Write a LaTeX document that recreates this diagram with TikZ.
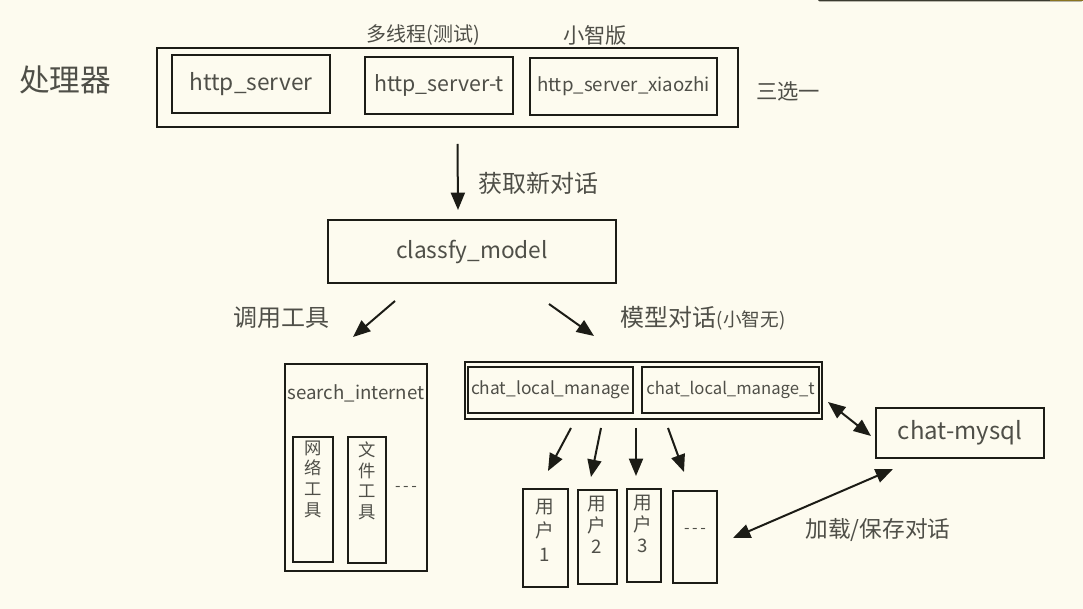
\documentclass[tikz,border=0pt]{standalone}
\usepackage{fontspec}
\setmainfont{Noto Sans CJK SC}
\usetikzlibrary{arrows.meta,calc}
\definecolor{bg}{HTML}{FDFBEF}
\definecolor{linec}{HTML}{1C1C16}
\definecolor{txt}{HTML}{4F4F48}
\definecolor{barc}{HTML}{3A3A30}
\definecolor{goldc}{HTML}{8A7420}
\tikzset{
  box/.style={draw=linec, line width=1.5pt, fill=none, inner sep=0pt},
  sz/.style 2 args={minimum width=#1*0.75pt, minimum height=#2*0.75pt},
  lbl/.style={text=txt, inner sep=0pt, align=center},
  fs/.style={font=\fontsize{#1}{#1}\selectfont},
  vtext/.style={text=txt, inner sep=0pt, align=center, font=\fontsize{13pt}{15.5pt}\selectfont},
  arr/.style={draw=linec, line width=1.5pt, -{Triangle[length=13pt,width=10.5pt]}},
  darr/.style={draw=linec, line width=1.5pt, {Triangle[length=13pt,width=10.5pt]}-{Triangle[length=13pt,width=10.5pt]}}
}
\begin{document}
\begin{tikzpicture}[x=0.75pt,y=-0.75pt]
\fill[bg] (0,0) rectangle (1083,609);
\useasboundingbox (0,0) rectangle (1083,609);
% top-right bar
\fill[barc, rounded corners=1.5pt] (818,-4) rectangle (1083,1.5);
\fill[goldc] (1050,-4) rectangle (1083,1.5);

% processor row
\node[box, sz={581}{79}] (proc) at (447.5,87.5) {};
\node[box, sz={158}{58}, lbl, fs=17pt] (hs1) at (251,84) {http\_server};
\node[box, sz={148}{57}, lbl, fs=16pt] (hs2) at (439,85.5) {http\_server-t};
\node[box, sz={187}{57}, lbl, fs=14pt] (hs3) at (623.5,86.5) {http\_server\_xiaozhi};
\node[lbl, fs=23pt] (tproc) at (65,80) {处理器};
\node[lbl, fs=15pt] (tmulti) at (423,35) {多线程(测试)};
\node[lbl, fs=16pt] (txz) at (595,35) {小智版};
\node[lbl, fs=16pt] (tsel) at (788,91) {三选一};

% classify
\node[box, sz={288}{63}, lbl, fs=17pt] (cls) at (472,251.5) {classfy\_model};
\draw[arr] ($(proc.south)+(10,16)$) -- ($(cls.north)+(-14,-9)$);
\node[lbl, fs=18pt] (tget) at (538,183) {获取新对话};

% tool branch
\node[box, sz={142}{207}] (search) at (356,467.5) {};
\node[lbl, fs=14pt] (tsearch) at (356,393) {search\_internet};
\node[box, sz={40}{125}] (tool1) at (313,499.5) {};
\node[vtext] (ttool1) at (313,479) {网\\络\\工\\具};
\node[box, sz={38}{126}] (tool2) at (367,500) {};
\node[vtext] (ttool2) at (367,481) {文\\件\\工\\具};
\node[lbl, fs=12pt] (tdots1) at (406,489) {-\,-\,-};
\draw[arr] ($(cls.south)+(-77,17)$) -- ($(search.north)+(-3,-26)$);
\node[lbl, fs=18pt] (tcall) at (281,318) {调用工具};

% chat branch
\node[box, sz={357}{57}] (chat) at (643.5,390.5) {};
\node[box, sz={165}{46}, lbl, fs=13pt] (clm) at (550.5,390) {chat\_local\_manage};
\node[box, sz={177}{46}, lbl, fs=12.5pt] (clmt) at (730.5,390) {chat\_local\_manage\_t};
\draw[arr] ($(cls.south)+(77,20)$) -- ($(chat.north)+(-49.5,-25)$);
\node[lbl, fs=18pt] (tmodel) at (703,318) {模型对话{\fontsize{14pt}{14pt}\selectfont(小智无)}};

% mysql
\node[box, sz={168}{50}, lbl, fs=18pt] (mysql) at (960,433) {chat-mysql};
\draw[darr] ($(chat.east)+(5,11.5)$) -- ($(mysql.west)+(-4,3)$);

% users
\node[box, sz={45}{98}] (u1) at (545.5,538) {};
\node[box, sz={39}{94}] (u2) at (597.5,537) {};
\node[box, sz={34}{93}] (u3) at (644,535.5) {};
\node[box, sz={44}{92}] (u4) at (695,537) {};
\node[vtext, font=\fontsize{14pt}{18pt}\selectfont] (tu1) at (545,530) {用\\户\\1};
\node[vtext, font=\fontsize{14pt}{16pt}\selectfont] (tu2) at (597,525) {用\\户\\2};
\node[vtext, font=\fontsize{14pt}{16pt}\selectfont] (tu3) at (643,524) {用\\户\\3};
\node[lbl, fs=12pt] (tdots2) at (695,531) {-\,-\,-};
\draw[arr] ($(chat.south)+(-72.5,8)$) -- ($(u1.north)+(2.5,-17)$);
\draw[arr] ($(chat.south)+(-42.5,8)$) -- ($(u2.north)+(-6.5,-12)$);
\draw[arr] ($(chat.south)+(-7.5,8)$) -- ($(u3.north)+(-8,-12)$);
\draw[arr] ($(chat.south)+(24.5,8)$) -- ($(u4.north)+(-11,-18)$);
\draw[darr] ($(mysql.south)+(-67,10)$) -- ($(u4.east)+(15,1)$);
\node[lbl, fs=17pt] (tload) at (878,530) {加载/保存对话};
\end{tikzpicture}
\end{document}
